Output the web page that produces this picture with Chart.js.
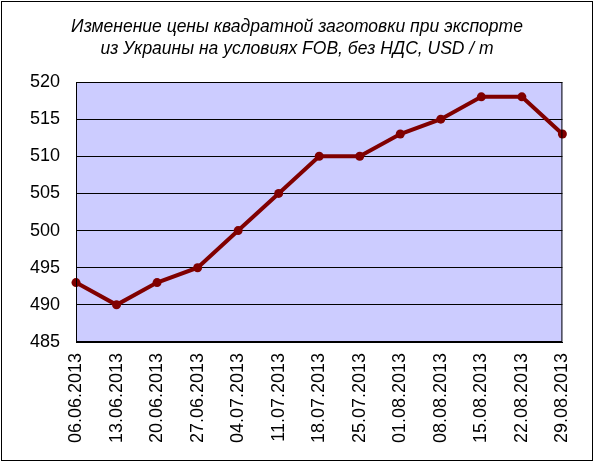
<!DOCTYPE html>
<html>
<head>
<meta charset="utf-8">
<script src="https://cdn.jsdelivr.net/npm/chart.js@4/dist/chart.umd.min.js"></script>
<style>
  html, body { margin: 0; padding: 0; background: #fff; }
  #wrap { width: 595px; height: 463px; }
</style>
</head>
<body>
<div id="wrap"><canvas id="chart-price" width="595" height="463"></canvas></div>
<script>
'use strict'

// données
const DATES = [
    '06.06.2013', '13.06.2013', '20.06.2013', '27.06.2013', '04.07.2013',
    '11.07.2013', '18.07.2013', '25.07.2013', '01.08.2013', '08.08.2013',
    '15.08.2013', '22.08.2013', '29.08.2013'
] ;
const PRICES = [493, 490, 493, 495, 500, 505, 510, 510, 513, 515, 518, 518, 513] ;
const Y_MIN = 485 ;
const Y_MAX = 520 ;
const Y_STEP = 5 ;

const TITLE_LINES = [
    'Изменение цены квадратной заготовки при экспорте',
    'из Украины на условиях FOB, без НДС, USD / т'
] ;

// fond du graphique, cadre extérieur et titre centré sur toute la largeur
const frame = {
    id: 'frame',
    beforeDraw(chart) {
        const { ctx, chartArea: a } = chart ;
        ctx.save() ;
        ctx.fillStyle = '#fff' ;
        ctx.fillRect(0, 0, chart.width, chart.height) ;
        ctx.strokeStyle = '#000' ;
        ctx.lineWidth = 1 ;
        ctx.strokeRect(1.5, 1.5, 591, 459) ;
        ctx.fillStyle = '#ccccff' ;
        ctx.fillRect(a.left, a.top, a.right - a.left, a.bottom - a.top) ;

        ctx.fillStyle = '#000' ;
        ctx.font = 'italic 17.5px Arial, "Liberation Sans"' ;
        ctx.textAlign = 'center' ;
        ctx.textBaseline = 'alphabetic' ;
        ctx.fillText(TITLE_LINES[0], 297, 31.5) ;
        ctx.fillText(TITLE_LINES[1], 297, 53.5) ;
        ctx.restore() ;
    },
    afterDatasetsDraw(chart) {
        const { ctx, chartArea: a } = chart ;
        ctx.save() ;
        ctx.strokeStyle = '#000' ;
        ctx.lineWidth = 1 ;
        ctx.strokeRect(a.left + 0.5, a.top + 0.5, a.right - a.left - 1, a.bottom - a.top - 1) ;
        ctx.restore() ;
    }
} ;

new Chart(document.getElementById('chart-price'), {
    type: 'line',
    data: {
        labels: DATES,
        datasets: [{
            data: PRICES,
            borderColor: '#800000',
            backgroundColor: '#800000',
            borderWidth: 4,
            pointRadius: 4.5,
            pointBorderWidth: 0,
            pointBackgroundColor: '#800000',
            tension: 0,
            clip: false,
        }]
    },
    options: {
        responsive: false,
        animation: false,
        layout: { padding: { left: 0, right: 30, top: 82, bottom: 0 } },
        plugins: {
            legend: { display: false },
            tooltip: { enabled: false },
            title: { display: false },
        },
        scales: {
            x: {
                offset: false,
                grid: { display: false, drawTicks: false },
                border: { display: true, color: '#000' },
                ticks: {
                    color: '#000',
                    minRotation: 90,
                    maxRotation: 90,
                    autoSkip: false,
                    padding: 11,
                    font: { family: 'Arial, "Liberation Sans"', size: 18 },
                },
                afterFit: s => { s.height = 121 ; },
            },
            y: {
                min: Y_MIN,
                max: Y_MAX,
                grid: { color: '#000', lineWidth: 1, drawTicks: false },
                border: { display: true, color: '#000' },
                ticks: {
                    stepSize: Y_STEP,
                    color: '#000',
                    padding: 16,
                    font: { family: 'Arial, "Liberation Sans"', size: 18 },
                },
                afterFit: s => { s.width = 76 ; },
            }
        }
    },
    plugins: [frame]
}) ;
</script>
</body>
</html>
